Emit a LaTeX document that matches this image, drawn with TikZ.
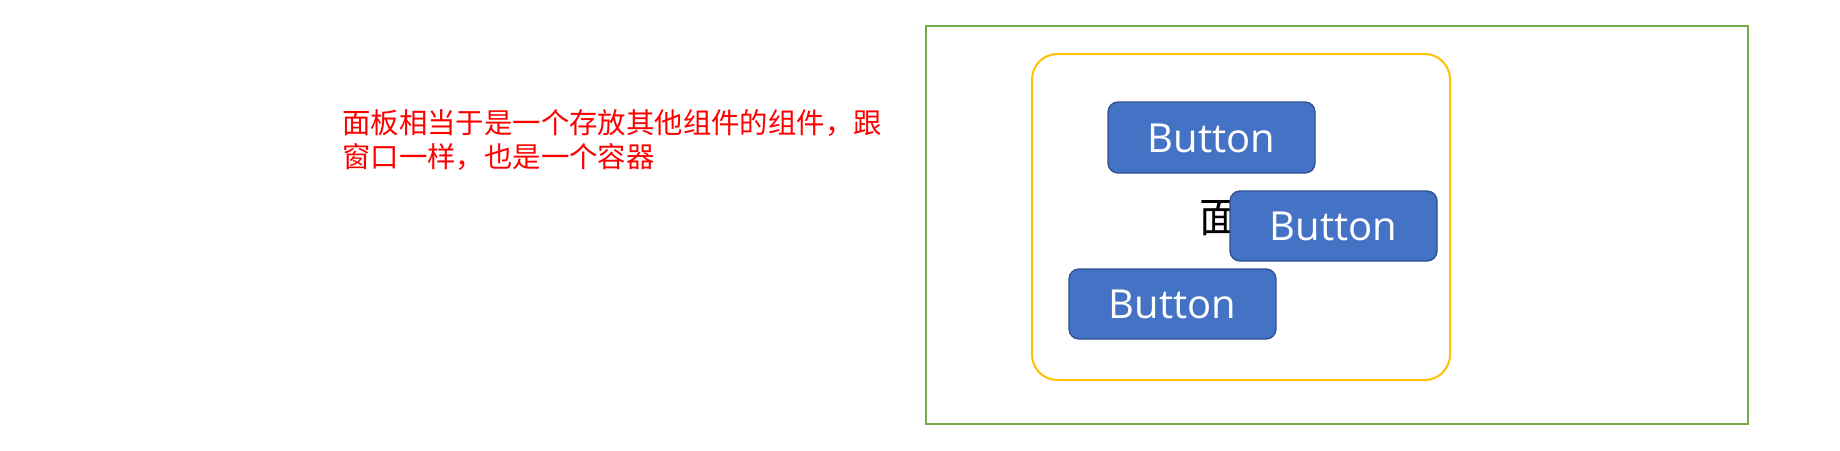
\documentclass[tikz,border=0pt]{standalone}
\usepackage{fontspec}
\newfontfamily\cjk{Noto Sans CJK SC}
\newfontfamily\btnfont{Open Sans}
\definecolor{btnfill}{HTML}{4472C4}
\definecolor{btnline}{HTML}{2F528F}
\definecolor{panelline}{HTML}{FFC000}
\definecolor{winline}{HTML}{70AD47}
\begin{document}
\begin{tikzpicture}[x=0.75pt,y=-0.75pt,
  btn/.style={draw=btnline, line width=1pt, fill=btnfill, rounded corners=7.5pt},
  btntext/.style={text=white, font=\btnfont\fontsize{30}{36}\selectfont, inner sep=0pt}]
\useasboundingbox (0,0) rectangle (1840,450);
% window
\draw[winline, line width=1.5pt] (926,26) rectangle (1748,424);
% panel
\draw[panelline, line width=1.5pt, rounded corners=19pt] (1032,54) rectangle (1450,380);
% label partly behind the middle button
\node[anchor=west, inner sep=0pt, font=\cjk\fontsize{31}{36}\selectfont] (lbl) at (1199,218) {面};
% buttons
\draw[btn] (1108,102) rectangle (1315,173);
\node[btntext] (b1) at (1211.5,138) {Button};
\draw[btn] (1230,191) rectangle (1437,261);
\node[btntext] (b2) at (1333.5,226.5) {Button};
\draw[btn] (1069,269) rectangle (1276,339);
\node[btntext] (b3) at (1172.5,304.5) {Button};
% note
\node[anchor=north west, inner sep=0pt, align=left, text=red, font=\cjk\fontsize{21.3}{25.5}\selectfont] (note) at (342,109) {面板相当于是一个存放其他组件的组件，跟\\窗口一样，也是一个容器};
\end{tikzpicture}
\end{document}
